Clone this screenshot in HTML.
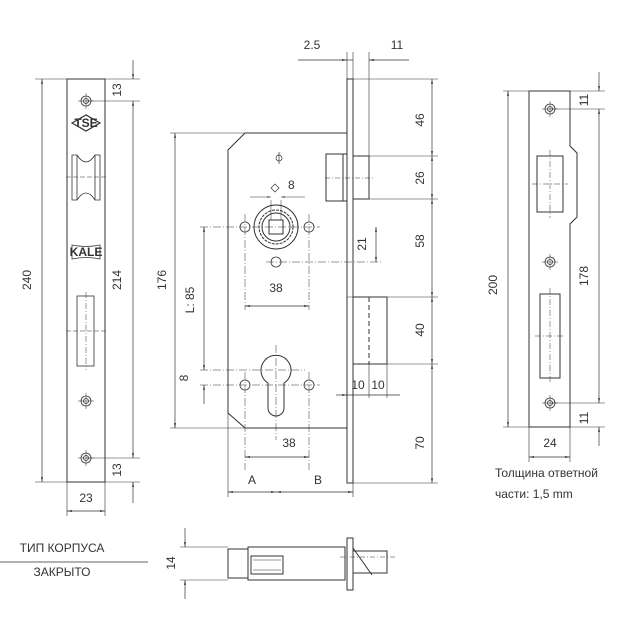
<!DOCTYPE html>
<html><head><meta charset="utf-8"><style>
html,body{margin:0;padding:0;background:#fff}
svg{display:block}
text{font-family:"Liberation Sans","Noto Sans CJK SC",sans-serif;fill:#333;font-size:12px}
</style></head><body>
<svg width="625" height="625" viewBox="0 0 625 625" xmlns="http://www.w3.org/2000/svg">
<defs>
<marker id="a" viewBox="0 0 10 10" refX="10" refY="5" markerWidth="7" markerHeight="7" orient="auto-start-reverse"><path d="M0,3L10,5L0,7z" fill="#333"/></marker>
</defs>
<g stroke="#333" stroke-width="1" fill="none">
<!-- LEFT FACEPLATE -->
<rect x="67" y="79" width="38" height="403" fill="#fff"/>
<line x1="35" y1="79" x2="67" y2="79" stroke-width=".6"/>
<line x1="35" y1="482" x2="67" y2="482" stroke-width=".6"/>
<line x1="42" y1="79" x2="42" y2="482" marker-start="url(#a)" marker-end="url(#a)" stroke-width=".7"/>
<line x1="105" y1="79" x2="140" y2="79" stroke-width=".6"/>
<line x1="86" y1="101" x2="140" y2="101" stroke-width=".6"/>
<line x1="86" y1="458" x2="140" y2="458" stroke-width=".6"/>
<line x1="105" y1="482" x2="140" y2="482" stroke-width=".6"/>
<line x1="133" y1="60" x2="133" y2="79" marker-end="url(#a)" stroke-width=".7"/>
<line x1="133" y1="101" x2="133" y2="458" marker-start="url(#a)" marker-end="url(#a)" stroke-width=".7"/>
<line x1="133" y1="482" x2="133" y2="503" marker-start="url(#a)" stroke-width=".7"/>
<line x1="67" y1="482" x2="67" y2="516" stroke-width=".6"/>
<line x1="105" y1="482" x2="105" y2="516" stroke-width=".6"/>
<line x1="67" y1="511" x2="105" y2="511" marker-start="url(#a)" marker-end="url(#a)" stroke-width=".7"/>
<g stroke-width=".8">
<circle cx="86" cy="101" r="5"/><circle cx="86" cy="101" r="2.5"/>
<circle cx="86" cy="401" r="5"/><circle cx="86" cy="401" r="2.5"/>
<circle cx="86" cy="458" r="5"/><circle cx="86" cy="458" r="2.5"/>
<path d="M78,101h16M86,93v16M78,401h16M86,393v16M78,458h16M86,450v16" stroke-width=".5"/>
<path d="M72,123L86,115L100,123L86,131z" stroke-width="1.2"/>
<path d="M72,155h5q9,14 18,0h5v45h-5q-9,-14 -18,0h-5z"/>
<line x1="77" y1="155" x2="77" y2="200"/><line x1="95" y1="155" x2="95" y2="200"/>
<line x1="66" y1="177" x2="106" y2="177" stroke-dasharray="5,2" stroke-width=".5"/>
<path d="M72,245q14,3 28,0v14q-14,-3 -28,0z"/>
<rect x="77" y="296" width="17" height="70"/>
<line x1="86" y1="292" x2="86" y2="370" stroke-dasharray="6,2,1,2" stroke-width=".5"/>
<line x1="66" y1="331" x2="106" y2="331" stroke-dasharray="5,2" stroke-width=".5"/>
</g>
<!-- MAIN BODY -->
<path d="M245,133H347V428H245L228,413V150Z" fill="#fff"/>
<rect x="347" y="79" width="6" height="404" fill="#fff"/>
<rect x="326" y="154" width="21" height="47"/>
<line x1="343" y1="154" x2="343" y2="201"/>
<rect x="353" y="156" width="16" height="43"/>
<line x1="325" y1="178" x2="375" y2="178" stroke-dasharray="5,2,1,2" stroke-width=".5"/>
<rect x="353" y="297" width="34" height="67"/>
<line x1="369" y1="297" x2="369" y2="364" stroke-dasharray="5,3"/>
<!-- top dims -->
<line x1="347" y1="52" x2="347" y2="79" stroke-width=".6"/>
<line x1="353" y1="52" x2="353" y2="79" stroke-width=".6"/>
<line x1="369" y1="52" x2="369" y2="156" stroke-width=".6"/>
<line x1="298" y1="60" x2="347" y2="60" marker-end="url(#a)" stroke-width=".7"/>
<line x1="353" y1="60" x2="347" y2="60" stroke-width=".7"/>
<line x1="409" y1="60" x2="369" y2="60" marker-end="url(#a)" stroke-width=".7"/>
<!-- right dims -->
<path d="M353,79H438M369,156H438M369,199H438M347,297H438M387,364H438M353,483H438" stroke-width=".6"/>
<line x1="432" y1="79" x2="432" y2="156" marker-start="url(#a)" marker-end="url(#a)" stroke-width=".7"/>
<line x1="432" y1="156" x2="432" y2="199" marker-start="url(#a)" marker-end="url(#a)" stroke-width=".7"/>
<line x1="432" y1="199" x2="432" y2="297" marker-start="url(#a)" marker-end="url(#a)" stroke-width=".7"/>
<line x1="432" y1="297" x2="432" y2="364" marker-start="url(#a)" marker-end="url(#a)" stroke-width=".7"/>
<line x1="432" y1="364" x2="432" y2="483" marker-start="url(#a)" marker-end="url(#a)" stroke-width=".7"/>
<!-- follower -->
<circle cx="276" cy="227" r="22"/>
<circle cx="276" cy="227" r="17" stroke-dasharray="3,1"/>
<circle cx="276" cy="227" r="14"/>
<rect x="269" y="220" width="14" height="14"/>
<g stroke-width=".8">
<circle cx="245" cy="227" r="5"/><circle cx="309" cy="227" r="5"/><circle cx="276" cy="262" r="5"/>
<circle cx="245" cy="385" r="5"/><circle cx="309" cy="385" r="5"/>
</g>
<path d="M200,227H320M266,262H382M245,214V310M309,214V310" stroke-width=".5" stroke-dasharray="8,2,1,2"/>
<path d="M271,200V220M281,200V220" stroke-width=".5"/>
<line x1="250" y1="197" x2="271" y2="197" marker-end="url(#a)" stroke-width=".6"/>
<line x1="305" y1="197" x2="281" y2="197" marker-end="url(#a)" stroke-width=".6"/>
<path d="M271,188l4,-4l4,4l-4,4z" stroke-width=".7"/>
<path d="M276,158a3,3 0 1,1 6,0a3,3 0 1,1 -6,0M279,152v12" stroke-width=".7"/>
<line x1="245" y1="306" x2="309" y2="306" marker-start="url(#a)" marker-end="url(#a)" stroke-width=".7"/>
<line x1="376" y1="227" x2="376" y2="262" marker-start="url(#a)" marker-end="url(#a)" stroke-width=".7"/>
<line x1="204" y1="227" x2="204" y2="370" marker-start="url(#a)" marker-end="url(#a)" stroke-width=".7"/>
<line x1="204" y1="385" x2="204" y2="404" marker-start="url(#a)" stroke-width=".7"/>
<!-- cylinder -->
<path d="M268,383A15,15 0 1,1 284,383V408A8,8 0 0,1 268,408Z"/>
<path d="M200,370H305M200,385H320M276,345V440M245,372V470M309,372V470" stroke-width=".5" stroke-dasharray="8,2,1,2"/>
<line x1="245" y1="457" x2="309" y2="457" marker-start="url(#a)" marker-end="url(#a)" stroke-width=".7"/>
<!-- 176 -->
<path d="M170,133H245M170,428H245" stroke-width=".6"/>
<line x1="175" y1="133" x2="175" y2="428" marker-start="url(#a)" marker-end="url(#a)" stroke-width=".7"/>
<!-- A B -->
<path d="M228,413V497M353,483V497" stroke-width=".6"/>
<line x1="228" y1="492" x2="276" y2="492" marker-start="url(#a)" marker-end="url(#a)" stroke-width=".7"/>
<line x1="276" y1="492" x2="353" y2="492" marker-start="url(#a)" marker-end="url(#a)" stroke-width=".7"/>
<!-- 10 10 -->
<path d="M369,364V398M387,364V398" stroke-width=".6"/>
<line x1="336" y1="395" x2="347" y2="395" marker-end="url(#a)" stroke-width=".7"/>
<line x1="347" y1="395" x2="400" y2="395" stroke-width=".7"/>
<!-- RIGHT STRIKE -->
<path d="M529,91H570V146L577,153V217L570,224V427H529Z" fill="#fff"/>
<rect x="537" y="156" width="26" height="56"/>
<rect x="540" y="294" width="20" height="84"/>
<path d="M550,150V218M532,184H568M550,288V384M535,336H565" stroke-width=".5" stroke-dasharray="6,2,1,2"/>
<g stroke-width=".8">
<circle cx="550" cy="109" r="5"/><circle cx="550" cy="109" r="2.5"/>
<circle cx="550" cy="262" r="5"/><circle cx="550" cy="262" r="2.5"/>
<circle cx="550" cy="403" r="5"/><circle cx="550" cy="403" r="2.5"/>
<path d="M542,109h16M550,101v16M542,262h16M550,254v16M542,403h16M550,395v16" stroke-width=".5"/>
</g>
<path d="M503,91H529M503,427H529M570,91H605M550,109H605M550,403H605M570,427H605M529,427V462M570,427V462" stroke-width=".6"/>
<line x1="508" y1="91" x2="508" y2="427" marker-start="url(#a)" marker-end="url(#a)" stroke-width=".7"/>
<line x1="599" y1="72" x2="599" y2="91" marker-end="url(#a)" stroke-width=".7"/>
<line x1="599" y1="109" x2="599" y2="403" marker-start="url(#a)" marker-end="url(#a)" stroke-width=".7"/>
<line x1="599" y1="427" x2="599" y2="446" marker-start="url(#a)" stroke-width=".7"/>
<line x1="529" y1="457" x2="570" y2="457" marker-start="url(#a)" marker-end="url(#a)" stroke-width=".7"/>
<!-- BOTTOM -->
<line x1="0" y1="562" x2="148" y2="562" stroke-width=".8"/>
<path d="M180,547H228M180,580H228" stroke-width=".6"/>
<line x1="185" y1="528" x2="185" y2="547" marker-end="url(#a)" stroke-width=".7"/>
<line x1="185" y1="599" x2="185" y2="580" marker-end="url(#a)" stroke-width=".7"/>
<path d="M228,549H248V547H345V580H248V578H228Z"/>
<line x1="248" y1="549" x2="248" y2="578"/>
<rect x="251" y="556" width="32" height="18"/>
<path d="M253,560h28M253,570h28" stroke-width=".6"/>
<rect x="347" y="538" width="6" height="52"/>
<rect x="353" y="551" width="34" height="22"/>
<path d="M353,548L372,575" />
<line x1="340" y1="557" x2="395" y2="557" stroke-dasharray="5,2,1,2" stroke-width=".5"/>
</g>
<!-- TEXT -->
<text transform="translate(31,280) rotate(-90)" text-anchor="middle">240</text>
<text transform="translate(121,280) rotate(-90)" text-anchor="middle">214</text>
<text transform="translate(121,90) rotate(-90)" text-anchor="middle">13</text>
<text transform="translate(121,470) rotate(-90)" text-anchor="middle">13</text>
<text x="86" y="502" text-anchor="middle">23</text>
<text x="86" y="127" text-anchor="middle" font-size="6" font-weight="bold">TSE</text>
<text x="86" y="256" text-anchor="middle" font-size="8" font-weight="bold">KALE</text>
<text transform="translate(166,280) rotate(-90)" text-anchor="middle">176</text>
<text transform="translate(194,300) rotate(-90)" text-anchor="middle">L: 85</text>
<text transform="translate(188,378) rotate(-90)" text-anchor="middle">8</text>
<text x="312" y="49" text-anchor="middle">2.5</text>
<text x="397" y="49" text-anchor="middle">11</text>
<text x="288" y="189">8</text>
<text x="276" y="292" text-anchor="middle">38</text>
<text x="289" y="447" text-anchor="middle">38</text>
<text transform="translate(366,244) rotate(-90)" text-anchor="middle">21</text>
<text x="252" y="484" text-anchor="middle">A</text>
<text x="318" y="484" text-anchor="middle">B</text>
<text x="358" y="389" text-anchor="middle">10</text>
<text x="378" y="389" text-anchor="middle">10</text>
<text transform="translate(424,120) rotate(-90)" text-anchor="middle">46</text>
<text transform="translate(424,178) rotate(-90)" text-anchor="middle">26</text>
<text transform="translate(424,241) rotate(-90)" text-anchor="middle">58</text>
<text transform="translate(424,330) rotate(-90)" text-anchor="middle">40</text>
<text transform="translate(424,443) rotate(-90)" text-anchor="middle">70</text>
<text transform="translate(497,285) rotate(-90)" text-anchor="middle">200</text>
<text transform="translate(588,276) rotate(-90)" text-anchor="middle">178</text>
<text transform="translate(588,100) rotate(-90)" text-anchor="middle">11</text>
<text transform="translate(588,418) rotate(-90)" text-anchor="middle">11</text>
<text x="550" y="447" text-anchor="middle">24</text>
<text x="495" y="477" font-size="12.5">Толщина ответной</text>
<text x="495" y="498" font-size="12.5">части: 1,5 mm</text>
<text x="62" y="552" text-anchor="middle" font-size="12.5">ТИП КОРПУСА</text>
<text x="62" y="576" text-anchor="middle" font-size="12.5">ЗАКРЫТО</text>
<text transform="translate(175,563) rotate(-90)" text-anchor="middle">14</text>
</svg>
</body></html>
